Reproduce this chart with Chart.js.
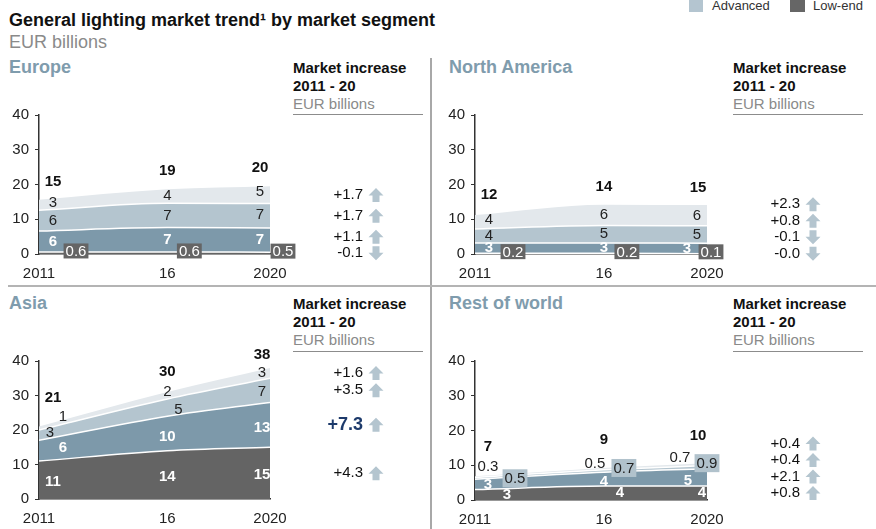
<!DOCTYPE html>
<html>
<head>
<meta charset="utf-8">
<script src="https://cdn.jsdelivr.net/npm/chart.js@4.4.1/dist/chart.umd.min.js"></script>
<style>
  body { margin:0; width:876px; height:529px; overflow:hidden; background:#fff; position:relative;
         font-family:"Liberation Sans", Arial, sans-serif; }
  .t { position:absolute; white-space:nowrap; line-height:1; }
  .ttl { font-size:18px; font-weight:bold; color:#7f9cad; }
  .hd { font-size:15px; font-weight:bold; color:#111; }
  .sub { font-size:15px; color:#8a8a8a; }
  .rule { position:absolute; height:1px; width:130px; background:#8c8c8c; }
  canvas { position:absolute; }
</style>
</head>
<body>

<div class="t" style="left:9px;top:11px;font-size:18px;font-weight:bold;color:#111">General lighting market trend¹ by market segment</div>
<div class="t" style="left:9px;top:33px;font-size:18px;color:#8a8a8a">EUR billions</div>

<div style="position:absolute;left:689px;top:0;width:14px;height:12px;background:#b4c5d0"></div>
<div class="t" style="left:712px;top:-1px;font-size:13px;color:#333">Advanced</div>
<div style="position:absolute;left:790px;top:0;width:15px;height:12px;background:#666"></div>
<div class="t" style="left:813px;top:-1px;font-size:13px;color:#333">Low-end</div>

<div style="position:absolute;left:430px;top:58px;width:1.5px;height:471px;background:#a8a8a8"></div>
<div style="position:absolute;left:8px;top:285px;width:868px;height:2px;background:#b4b4b4"></div>

<div class="t ttl" style="left:9px;top:58px">Europe</div>
<div class="t ttl" style="left:449px;top:58px">North America</div>
<div class="t ttl" style="left:9px;top:294px">Asia</div>
<div class="t ttl" style="left:449px;top:294px">Rest of world</div>

<div class="t hd" style="left:293px;top:60px">Market increase</div>
<div class="t hd" style="left:293px;top:78px">2011 - 20</div>
<div class="t sub" style="left:293px;top:96px">EUR billions</div>
<div class="rule" style="left:293px;top:114px"></div>

<div class="t hd" style="left:733px;top:60px">Market increase</div>
<div class="t hd" style="left:733px;top:78px">2011 - 20</div>
<div class="t sub" style="left:733px;top:96px">EUR billions</div>
<div class="rule" style="left:733px;top:114px"></div>

<div class="t hd" style="left:293px;top:296px">Market increase</div>
<div class="t hd" style="left:293px;top:314px">2011 - 20</div>
<div class="t sub" style="left:293px;top:332px">EUR billions</div>
<div class="rule" style="left:293px;top:351px"></div>

<div class="t hd" style="left:733px;top:296px">Market increase</div>
<div class="t hd" style="left:733px;top:314px">2011 - 20</div>
<div class="t sub" style="left:733px;top:332px">EUR billions</div>
<div class="rule" style="left:733px;top:351px"></div>

<canvas id="europe" width="430" height="190" style="left:0;top:95px"></canvas>
<canvas id="northAmerica" width="440" height="190" style="left:436px;top:95px"></canvas>
<canvas id="asia" width="430" height="188" style="left:0;top:341px"></canvas>
<canvas id="restOfWorld" width="440" height="188" style="left:436px;top:341px"></canvas>

<script>
const years = [2011, 2016, 2020];
const yearLabels = ['2011', '16', '2020'];

// layers bottom -> top: low-end, layer 2, advanced, layer 4
const europeLowEnd = [0.6, 0.6, 0.5];
const europeLayer2 = [6, 7, 7];
const europeAdvanced = [6, 7, 7];
const europeLayer4 = [3, 4, 5];
const europeTotals = [15, 19, 20];
const europeIncrease = ['+1.7', '+1.7', '+1.1', '-0.1']; // top -> bottom

const naLowEnd = [0.2, 0.2, 0.1];
const naLayer2 = [3, 3, 3];
const naAdvanced = [4, 5, 5];
const naLayer4 = [4, 6, 6];
const naTotals = [12, 14, 15];
const naIncrease = ['+2.3', '+0.8', '-0.1', '-0.0'];

const asiaLowEnd = [11, 14, 15];
const asiaLayer2 = [6, 10, 13];
const asiaAdvanced = [3, 5, 7];
const asiaLayer4 = [1, 2, 3];
const asiaTotals = [21, 30, 38];
const asiaIncrease = ['+1.6', '+3.5', '+7.3', '+4.3'];

const rowLowEnd = [3, 4, 4];
const rowLayer2 = [3, 4, 5];
const rowAdvanced = [0.5, 0.7, 0.9];
const rowLayer4 = [0.3, 0.5, 0.7];
const rowTotals = [7, 9, 10];
const rowIncrease = ['+0.4', '+0.4', '+2.1', '+0.8'];

const colors = ['#646464', '#7d99aa', '#b4c5cf', '#e3e8ec'];
const FONT = '"Liberation Sans", Arial, sans-serif';

const panels = [
  { id: 'europe', data: [europeLowEnd, europeLayer2, europeAdvanced, europeLayer4],
    totals: europeTotals, increase: europeIncrease, padRight: 160, xHeight: 31,
    styles: ['boxDark', 'white', 'plain', 'plain'],
    dx: [[37, 22, 13], [14, 0, -10], [14, 0, -10], [14, 0, -10]],
    dy: [[-2, -2, -2], [0, 0, 0], [0, 0, -1], [-2, 0, -3]],
    totalDx: [14, 0, -10], totalDy: [-18, -19, -18] },
  { id: 'northAmerica', data: [naLowEnd, naLayer2, naAdvanced, naLayer4],
    totals: naTotals, increase: naIncrease, padRight: 169, xHeight: 31,
    styles: ['boxDark', 'white', 'plain', 'plain'],
    dx: [[38, 23, 4], [14, 0, -20], [14, 0, -10], [14, 0, -10]],
    dy: [[-2, -2, -2], [0, 0, 0], [0, 0, 0], [-2, 0, 0]],
    totalDx: [14, 0, -9], totalDy: [-20, -18, -17] },
  { id: 'asia', data: [asiaLowEnd, asiaLayer2, asiaAdvanced, asiaLayer4],
    totals: asiaTotals, increase: asiaIncrease, padRight: 160, xHeight: 30, emphasis: 2,
    styles: ['white', 'white', 'plain', 'plain'],
    dx: [[14, 0, -8], [24, 0, -8], [11, 11, -8], [24, 0, -8]],
    dy: [[2, 2, 2], [-3, 3, 3], [-2, 2, 2], [-11, -4, 0]],
    totalDx: [14, 0, -8], totalDy: [-29, -20, -13] },
  { id: 'restOfWorld', data: [rowLowEnd, rowLayer2, rowAdvanced, rowLayer4],
    totals: rowTotals, increase: rowIncrease, padRight: 169, xHeight: 29,
    styles: ['white', 'white', 'boxLight', 'plain'],
    dx: [[32, 16, -5], [13, 0, -19], [40, 20, 0], [13, -9, -27]],
    dy: [[0, 0, 0], [0, 3, 3], [0, -3, -4], [-10, -5, -7]],
    totalDx: [13, 0, -9], totalDy: [-30, -28, -27] }
];

function fmt(v) {
  return v < 1 ? v.toFixed(1) : String(v);
}

function drawLabel(ctx, text, x, y, style) {
  if (style === 'boxDark' || style === 'boxLight') {
    ctx.font = '15px ' + FONT;
    const w = ctx.measureText(text).width + 4;
    const h = style === 'boxDark' ? 15 : 18;
    ctx.fillStyle = style === 'boxDark' ? '#656565' : '#b1c2cc';
    ctx.fillRect(x - w / 2, y - h / 2, w, h);
    ctx.fillStyle = style === 'boxDark' ? '#ffffff' : '#222222';
    ctx.fillText(text, x, y + 1);
  } else if (style === 'white') {
    ctx.font = 'bold 15px ' + FONT;
    ctx.fillStyle = '#ffffff';
    ctx.fillText(text, x, y);
  } else {
    ctx.font = '15px ' + FONT;
    ctx.fillStyle = '#222222';
    ctx.fillText(text, x, y);
  }
}

function drawArrow(ctx, cx, cy, up) {
  const s = up ? 1 : -1;
  ctx.beginPath();
  ctx.moveTo(cx, cy - 7 * s);
  ctx.lineTo(cx + 7.5, cy + 0.5 * s);
  ctx.lineTo(cx + 3.5, cy + 0.5 * s);
  ctx.lineTo(cx + 3.5, cy + 7 * s);
  ctx.lineTo(cx - 3.5, cy + 7 * s);
  ctx.lineTo(cx - 3.5, cy + 0.5 * s);
  ctx.lineTo(cx - 7.5, cy + 0.5 * s);
  ctx.closePath();
  ctx.fill();
}

function makeLabelPlugin(p) {
  return {
    id: 'segLabels',
    afterDatasetsDraw(chart) {
      const ctx = chart.ctx;
      const xs = chart.scales.x, ys = chart.scales.y;
      ctx.save();
      ctx.textAlign = 'center';
      ctx.textBaseline = 'middle';
      const last = years.length - 1;
      const mids = [];
      years.forEach((yr, i) => {
        const px = xs.getPixelForValue(yr);
        let base = 0;
        p.data.forEach((series, k) => {
          const v = series[i];
          const yMid = ys.getPixelForValue(base + v / 2);
          if (i === last) mids.push(yMid);
          base += v;
          drawLabel(ctx, fmt(v), px + p.dx[k][i], yMid + p.dy[k][i], p.styles[k]);
        });
        ctx.font = 'bold 15px ' + FONT;
        ctx.fillStyle = '#111111';
        ctx.fillText(String(p.totals[i]), px + p.totalDx[i], ys.getPixelForValue(base) + p.totalDy[i]);
      });

      // market increase column, rows placed at the 2020 layer midpoints
      const rows = [];
      mids.forEach((m, k) => {
        rows.push(k === 0 ? m : Math.min(m, rows[k - 1] - 16.5));
      });
      const tx = chart.chartArea.right + 93;
      rows.forEach((ry, k) => {
        const text = p.increase[p.increase.length - 1 - k];
        const emph = p.emphasis === p.increase.length - 1 - k;
        ctx.textAlign = 'right';
        ctx.font = (emph ? 'bold 18px ' : '15px ') + FONT;
        ctx.fillStyle = emph ? '#1d3a6b' : '#111111';
        ctx.fillText(text, tx, ry);
        ctx.fillStyle = '#b4c5cf';
        drawArrow(ctx, tx + 13, ry, text[0] !== '-');
      });
      ctx.restore();
    }
  };
}

panels.forEach(p => {
  new Chart(document.getElementById(p.id), {
    type: 'line',
    data: {
      datasets: p.data.map((series, k) => ({
        data: series.map((v, i) => ({ x: years[i], y: v })),
        backgroundColor: colors[k],
        borderColor: '#ffffff',
        borderWidth: k === 3 ? 0 : 1.5,
        fill: k === 0 ? 'origin' : '-1',
        pointRadius: 0,
        cubicInterpolationMode: 'monotone'
      }))
    },
    options: {
      responsive: false,
      animation: false,
      layout: { padding: { top: 20, right: p.padRight, left: 0, bottom: 0 } },
      plugins: { legend: { display: false }, tooltip: { enabled: false } },
      scales: {
        x: {
          type: 'linear', min: 2011, max: 2020,
          grid: { display: false, drawTicks: false },
          border: { color: '#333333', width: 1.5 },
          afterBuildTicks: scale => { scale.ticks = years.map(v => ({ value: v })); },
          afterFit: scale => { scale.height = p.xHeight; },
          ticks: {
            autoSkip: false, maxRotation: 0, padding: 11,
            color: '#222222', font: { family: FONT, size: 15 },
            callback: v => yearLabels[years.indexOf(v)]
          }
        },
        y: {
          stacked: true, min: 0, max: 40,
          grid: { drawOnChartArea: false, tickLength: 4, color: '#333333' },
          border: { color: '#333333', width: 1.5 },
          afterFit: scale => { scale.width = 39; },
          ticks: { stepSize: 10, padding: 6, color: '#222222', font: { family: FONT, size: 15 } }
        }
      }
    },
    plugins: [makeLabelPlugin(p)]
  });
});
</script>
</body>
</html>
